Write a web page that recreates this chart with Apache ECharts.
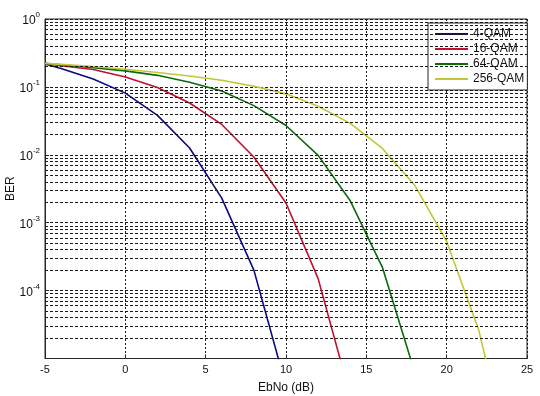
<!DOCTYPE html>
<html>
<head>
<meta charset="utf-8">
<script src="https://cdn.jsdelivr.net/npm/echarts@6/dist/echarts.min.js"></script>
<style>
html,body{margin:0;padding:0;background:#fff;}
#chart{width:540px;height:396px;}
</style>
</head>
<body>
<div id="chart"></div>
<script>
// EbNo values (dB)
const ebno = [-5, -4, -2, 0, 2, 4, 6, 8, 10, 12, 14, 16, 18, 20, 22, 24];
// BER per modulation (points past the axis limits get clipped)
const ber4 = [0.218, 0.187, 0.131, 0.081, 0.038, 0.0126, 0.0023, 0.0002, 3.9e-6, null, null, null, null, null, null, null];
const ber16 = [0.222, 0.205, 0.18, 0.14, 0.098, 0.058, 0.028, 0.0093, 0.00195, 0.00015, 2.8e-6, null, null, null, null, null];
const ber64 = [0.222, 0.212, 0.192, 0.172, 0.148, 0.117, 0.087, 0.053, 0.027, 0.0098, 0.0021, 0.00022, 6.4e-6, null, null, null];
const ber256 = [0.222, 0.215, 0.2, 0.182, 0.163, 0.145, 0.125, 0.102, 0.079, 0.052, 0.029, 0.0124, 0.0036, 0.00053, 2.6e-5, 2.8e-7];
const seriesNames = ['4-QAM', '16-QAM', '64-QAM', '256-QAM'];
const seriesColors = ['#0a0a82', '#c0102c', '#0b6b0b', '#c2c832'];
const xTicks = [-5, 0, 5, 10, 15, 20, 25];
const yDecades = [-5, -4, -3, -2, -1, 0];

const allBer = [ber4, ber16, ber64, ber256];
const FONT = '"Liberation Sans", Arial, sans-serif';

// minor grid (2..9 per decade)
const minorLines = [];
for (let i = 0; i < yDecades.length - 1; i++) {
  for (let k = 2; k <= 9; k++) minorLines.push({ yAxis: k * Math.pow(10, yDecades[i]) });
}

const gridLineStyle = { color: '#1a1a1a', width: 1, type: [3, 2] };

const series = [{
  name: 'minor-grid',
  type: 'line',
  data: [],
  silent: true,
  z: 1,
  markLine: {
    silent: true,
    symbol: ['none', 'none'],
    precision: 12,
    label: { show: false },
    animation: false,
    lineStyle: gridLineStyle,
    emphasis: { disabled: true },
    data: minorLines
  }
}];
allBer.forEach((arr, i) => {
  series.push({
    name: seriesNames[i],
    type: 'line',
    z: 3,
    data: ebno.map((x, j) => [x, arr[j]]),
    showSymbol: false,
    symbol: 'none',
    clip: true,
    connectNulls: false,
    lineStyle: { color: seriesColors[i], width: 1.6 },
    itemStyle: { color: seriesColors[i] },
    animation: false
  });
});

const chart = echarts.init(document.getElementById('chart'), null, { renderer: 'canvas' });
chart.setOption({
  backgroundColor: '#fff',
  animation: false,
  textStyle: { fontFamily: FONT },
  grid: {
    left: 45, right: 13, top: 19, bottom: 37.5,
    containLabel: false,
    outerBoundsMode: 'none',
    show: true, borderColor: '#262626', borderWidth: 1, backgroundColor: 'transparent'
  },
  legend: {
    data: seriesNames,
    orient: 'vertical',
    left: 428, top: 23,
    padding: [4, 3, 4, 7],
    itemGap: 1,
    itemWidth: 33,
    itemHeight: 2,
    icon: 'rect',
    backgroundColor: '#fff',
    borderColor: '#262626',
    borderWidth: 1,
    borderRadius: 0,
    textStyle: { fontFamily: FONT, fontSize: 12, color: '#111', lineHeight: 14 }
  },
  xAxis: {
    type: 'value',
    min: xTicks[0], max: xTicks[xTicks.length - 1], interval: 5,
    name: 'EbNo (dB)',
    nameLocation: 'middle',
    nameGap: 23,
    nameMoveOverlap: false,
    nameTextStyle: { fontFamily: FONT, fontSize: 12, color: '#111' },
    axisLine: { show: true, onZero: false, lineStyle: { color: '#262626', width: 1 } },
    axisTick: { show: true, inside: true, length: 4, lineStyle: { color: '#262626' } },
    axisLabel: { fontFamily: FONT, fontSize: 11, color: '#111', margin: 6 },
    splitLine: { show: true, lineStyle: { color: '#1a1a1a', width: 1, type: [2, 2] } }
  },
  yAxis: {
    type: 'log',
    logBase: 10,
    min: Math.pow(10, yDecades[0]), max: Math.pow(10, yDecades[yDecades.length - 1]),
    name: 'BER',
    nameLocation: 'middle',
    nameGap: 28,
    nameMoveOverlap: false,
    nameTextStyle: { fontFamily: FONT, fontSize: 12, color: '#111' },
    axisLine: { show: true, onZero: false, lineStyle: { color: '#262626', width: 1 } },
    axisTick: { show: true, inside: true, length: 4, lineStyle: { color: '#262626' } },
    axisLabel: {
      margin: 5,
      align: 'right',
      formatter: function (v) {
        const e = Math.round(Math.log10(v));
        if (e === yDecades[0]) return '';
        return '{b|10}{s|' + e + '}';
      },
      rich: {
        b: { fontFamily: FONT, fontSize: 12, color: '#111', lineHeight: 16, verticalAlign: 'bottom' },
        s: { fontFamily: FONT, fontSize: 8, color: '#111', lineHeight: 16, verticalAlign: 'top' }
      }
    },
    splitLine: { show: true, lineStyle: gridLineStyle }
  },
  series: series
});
</script>
</body>
</html>
